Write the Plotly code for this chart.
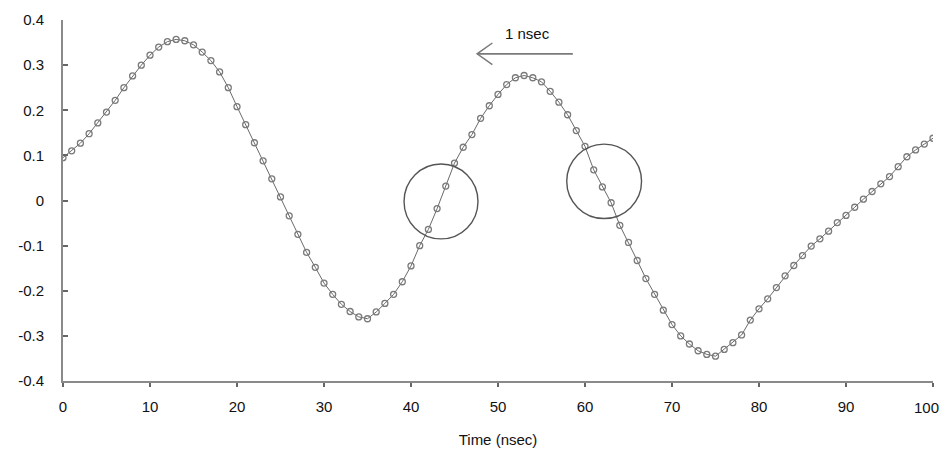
import plotly.graph_objects as go

# Time axis (nsec) and measured signal values
time_ns = list(range(0, 101))
signal = [
    0.095, 0.11, 0.127, 0.148, 0.172, 0.196, 0.222, 0.25, 0.276, 0.3,
    0.322, 0.34, 0.352, 0.357, 0.354, 0.345, 0.329, 0.31, 0.285, 0.25,
    0.208, 0.168, 0.128, 0.088, 0.048, 0.008, -0.034, -0.075, -0.115, -0.148,
    -0.183, -0.208, -0.23, -0.246, -0.258, -0.262, -0.247, -0.228, -0.208, -0.18,
    -0.145, -0.1, -0.064, -0.018, 0.032, 0.083, 0.118, 0.146, 0.182, 0.21,
    0.235, 0.257, 0.272, 0.277, 0.272, 0.263, 0.242, 0.218, 0.19, 0.155,
    0.12, 0.068, 0.03, -0.005, -0.055, -0.093, -0.133, -0.173, -0.208, -0.243,
    -0.275, -0.3, -0.318, -0.333, -0.341, -0.345, -0.33, -0.315, -0.298, -0.265,
    -0.24, -0.218, -0.193, -0.167, -0.144, -0.122, -0.101, -0.085, -0.068, -0.049,
    -0.033, -0.015, 0.003, 0.02, 0.037, 0.053, 0.075, 0.097, 0.112, 0.125,
    0.138,
]

x_tick_vals = [0, 10, 20, 30, 40, 50, 60, 70, 80, 90, 100]
x_tick_text = ["0", "10", "20", "30", "40", "50", "60", "70", "80", "90", "100"]
y_tick_vals = [0.4, 0.3, 0.2, 0.1, 0, -0.1, -0.2, -0.3, -0.4]
y_tick_text = ["0.4", "0.3", "0.2", "0.1", "0", "-0.1", "-0.2", "-0.3", "-0.4"]

# Annotation geometry (data units)
circle_a = dict(x0=39.2, x1=47.7, y0=-0.085, y1=0.081)
circle_b = dict(x0=57.9, x1=66.5, y0=-0.04, y1=0.125)
arrow_tail = (58.6, 0.325)
arrow_head = (47.6, 0.325)
arrow_wing = (1.75, 0.024)
label_pos = (53.4, 0.369)

AXIS_GREY = "#8a8a8a"
FONT = "Liberation Sans, Arial, sans-serif"

fig = go.Figure()
fig.add_trace(go.Scatter(
    x=time_ns, y=signal, mode="lines+markers",
    line=dict(color="#6a6a6a", width=1),
    marker=dict(symbol="circle-open", size=6, color="#7a7a7a", line=dict(width=1.3, color="#7a7a7a")),
    showlegend=False, hoverinfo="skip",
))

for c in (circle_a, circle_b):
    fig.add_shape(type="circle", xref="x", yref="y", line=dict(color="#555555", width=1.4), **c)

# "1 nsec" arrow: shaft plus open V head
fig.add_shape(type="line", xref="x", yref="y",
              x0=arrow_tail[0], y0=arrow_tail[1], x1=arrow_head[0], y1=arrow_head[1],
              line=dict(color="#7a7a7a", width=1.8))
hx, hy = arrow_head
fig.add_shape(type="path", xref="x", yref="y",
              path=f"M {hx + arrow_wing[0]},{hy + arrow_wing[1]} L {hx},{hy} L {hx + arrow_wing[0]},{hy - arrow_wing[1]}",
              line=dict(color="#7a7a7a", width=1.5))
fig.add_annotation(
    x=label_pos[0], y=label_pos[1], xref="x", yref="y", text="1 nsec", showarrow=False,
    font=dict(family=FONT, size=15, color="#111111"),
)

# Last x tick label sits flush with the right edge (as in the reference)
shown_x_text = x_tick_text[:-1] + [""]
fig.add_annotation(
    x=x_tick_vals[-1], y=0, xref="x", yref="paper", text=x_tick_text[-1], showarrow=False,
    xanchor="right", yanchor="top", xshift=8, yshift=-16,
    font=dict(family=FONT, size=15, color="#111111"),
)

fig.update_layout(
    width=943, height=453,
    margin=dict(l=63, r=10, t=20, b=72),
    paper_bgcolor="white", plot_bgcolor="white",
    font=dict(family=FONT, size=15, color="#111111"),
    xaxis=dict(
        range=[0, 100], tickvals=x_tick_vals, ticktext=shown_x_text,
        showgrid=False, zeroline=False, showline=True, linecolor=AXIS_GREY, linewidth=2,
        ticks="outside", ticklen=4, tickwidth=2, tickcolor="#666666",
        ticklabelstandoff=7, automargin=False,
        title=dict(text="Time (nsec)", font=dict(family=FONT, size=15), standoff=20),
    ),
    yaxis=dict(
        range=[-0.4, 0.4], tickvals=y_tick_vals, ticktext=y_tick_text,
        showgrid=False, zeroline=False, showline=True, linecolor=AXIS_GREY, linewidth=2,
        ticks="inside", ticklen=5, tickwidth=2, tickcolor="#666666",
        ticklabelstandoff=14, automargin=False,
    ),
)

fig.write_html("out.html")
